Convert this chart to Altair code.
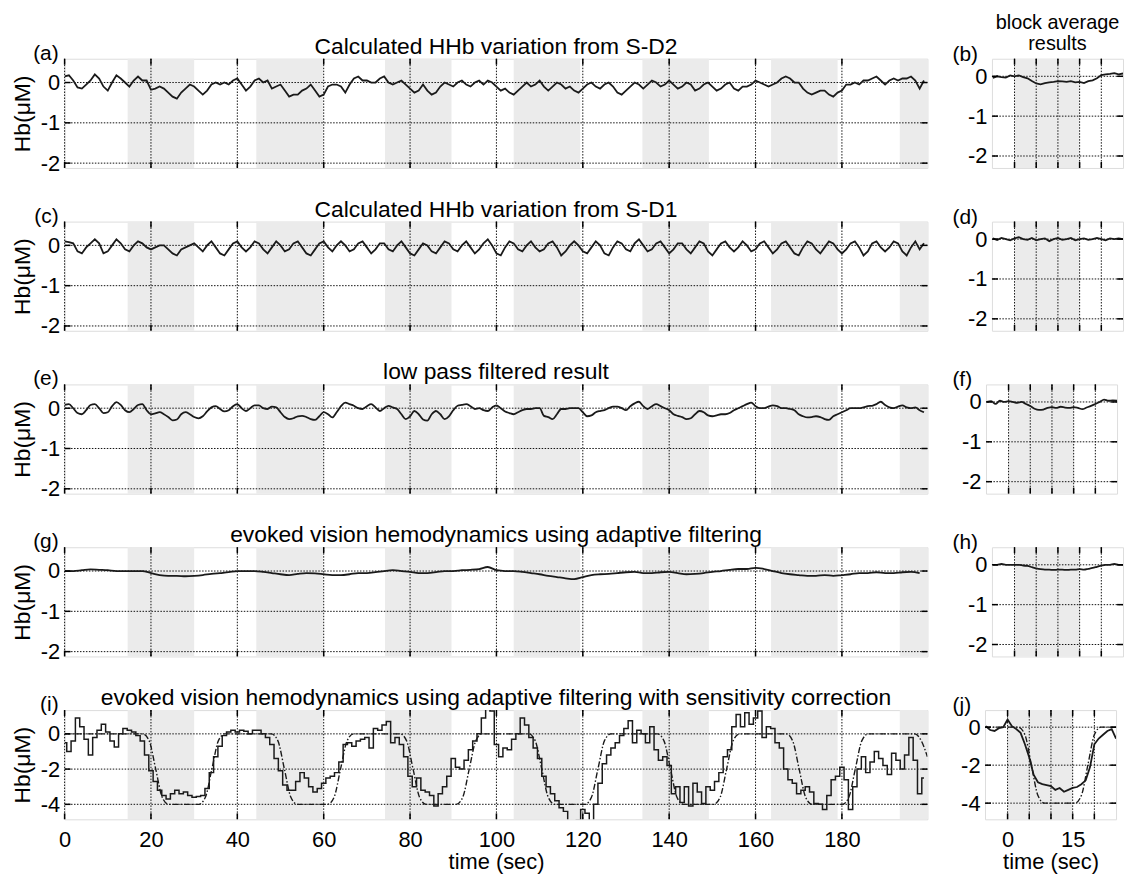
import altair as alt
import pandas as pd

FONT = "Liberation Sans"
GRAY = "#ebebeb"
INK = "#1a1a1a"

MAIN_W, MAIN_H = 869, 110
SMALL_W, SMALL_H = 132, 110
MAIN_XDOM = [0, 199.8]
SMALL_XDOM = [-5.2, 25]

MAIN_XTICKS = [0, 20, 40, 60, 80, 100, 120, 140, 160, 180]
SMALL_XGRID = [0, 5, 10, 15, 20]
SMALL_XLABELS = [0, 15]
BAND_START = [14.6, 44.4, 74.2, 104.0, 133.8, 163.6, 193.4]
BAND_END = [30.0, 59.8, 89.6, 119.4, 149.2, 179.0, 199.8]
SMALL_BAND_START = [0]
SMALL_BAND_END = [15]

YT_SMALLRANGE = [0, -1, -2]
YT_BIGRANGE = [0, -2, -4]

T_MAIN = list(range(200))
T_MAIN_2S = list(range(0, 200, 2))
T_SMALL = list(range(-5, 26))

# (a) Calculated HHb variation from S-D2
A_SD2 = [0.15, 0.18, 0.05, -0.12, -0.15, -0.05, 0.05, 0.2, 0.1, -0.1,
         -0.2, 0.0, 0.18, 0.1, 0.0, -0.1, 0.05, 0.15, 0.05, 0.05,
         -0.18, -0.15, -0.1, -0.15, -0.25, -0.35, -0.4, -0.25, -0.15, -0.05,
         -0.1, -0.2, -0.3, -0.2, -0.05, 0.0, -0.05, 0.0, -0.05, 0.05,
         0.1, -0.05, -0.2, -0.1, 0.05, 0.1, 0.0, 0.05, -0.15, -0.1,
         -0.05, -0.2, -0.35, -0.3, -0.3, -0.2, -0.15, -0.05, -0.2, -0.35,
         -0.3, -0.1, -0.05, -0.05, -0.1, -0.25, -0.05, 0.1, 0.15, 0.05,
         0.05, 0.0, 0.0, 0.1, 0.15, 0.0, -0.05, 0.0, 0.05, -0.05,
         -0.15, -0.25, -0.2, -0.05, -0.2, -0.3, -0.25, -0.1, 0.0, -0.05,
         -0.1, 0.0, 0.05, -0.05, -0.1, 0.0, 0.05, -0.05, 0.05, 0.0,
         -0.1, -0.2, -0.15, -0.25, -0.3, -0.2, -0.1, 0.0, -0.1, -0.05,
         0.05, -0.1, -0.2, -0.1, 0.0, -0.05, -0.15, -0.1, -0.2, -0.25,
         -0.15, -0.05, 0.0, -0.1, -0.15, -0.05, 0.0, -0.1, -0.25, -0.3,
         -0.2, -0.1, 0.0, -0.05, -0.15, -0.05, 0.05, 0.0, -0.1, -0.05,
         0.05, -0.05, -0.15, -0.1, 0.0, -0.05, -0.2, -0.15, -0.05, 0.0,
         -0.1, -0.2, -0.15, -0.05, 0.0, -0.15, -0.2, -0.1, -0.1, -0.05,
         0.05, 0.0, -0.05, -0.1, -0.05, 0.0, 0.1, 0.15, 0.1, 0.0,
         0.0, -0.15, -0.25, -0.3, -0.25, -0.2, -0.2, -0.3, -0.35, -0.25,
         -0.2, -0.05, -0.05, 0.0, -0.05, 0.05, 0.05, 0.1, 0.15, 0.05,
         -0.05, 0.05, 0.1, 0.05, 0.1, 0.1, 0.15, 0.05, -0.15, 0.05]

# (c) Calculated HHb variation from S-D1
C_SD1 = [0.1, 0.08, 0.05, -0.15, -0.2, -0.05, 0.05, 0.15, 0.05, -0.2,
         -0.15, 0.0, 0.15, 0.05, -0.1, -0.15, 0.0, 0.1, 0.05, -0.05,
         -0.1, -0.05, 0.0, 0.0, -0.1, -0.2, -0.25, -0.1, -0.05, 0.0,
         0.05, -0.05, -0.15, 0.0, 0.1, -0.05, -0.2, -0.25, -0.1, 0.05,
         0.1, -0.05, -0.15, -0.05, 0.1, 0.05, -0.1, -0.2, -0.05, 0.1,
         0.0, -0.15, -0.1, 0.05, 0.1, -0.05, -0.2, -0.25, -0.1, 0.05,
         0.1, -0.05, -0.15, 0.0, 0.1, 0.0, -0.15, -0.1, 0.05, 0.1,
         -0.05, -0.2, -0.1, 0.05, 0.05, -0.1, -0.15, 0.0, 0.1, -0.05,
         -0.2, -0.25, -0.1, 0.05, 0.0, -0.15, -0.2, -0.05, 0.1, 0.05,
         -0.1, -0.15, 0.0, 0.1, -0.05, -0.2, -0.1, 0.05, 0.15, 0.0,
         -0.2, -0.25, -0.05, 0.1, 0.05, -0.1, -0.15, 0.0, 0.1, -0.05,
         -0.15, -0.1, 0.05, 0.1, -0.05, -0.25, -0.15, 0.0, 0.1, 0.0,
         -0.15, -0.2, -0.05, 0.1, 0.0, -0.2, -0.25, -0.05, 0.1, 0.05,
         -0.1, -0.15, 0.05, 0.15, 0.0, -0.15, -0.1, 0.05, 0.1, -0.05,
         -0.2, -0.1, 0.05, 0.05, -0.1, -0.2, -0.05, 0.1, 0.05, -0.15,
         -0.25, -0.1, 0.05, 0.1, -0.05, -0.15, -0.05, 0.1, 0.0, -0.15,
         -0.1, 0.05, 0.1, -0.05, -0.2, -0.1, 0.05, 0.1, -0.05, -0.2,
         -0.25, -0.05, 0.1, 0.05, -0.1, -0.2, -0.05, 0.1, 0.05, -0.1,
         -0.2, -0.1, 0.05, 0.1, -0.05, -0.25, -0.15, 0.05, 0.1, -0.05,
         -0.15, -0.05, 0.1, 0.05, -0.15, -0.25, -0.05, 0.1, -0.1, 0.05]

# (e) low pass filtered result
E_LP = [0.08, 0.1, 0.0, -0.12, -0.15, -0.05, 0.08, 0.1, 0.0, -0.12,
        -0.1, 0.05, 0.15, 0.08, -0.05, -0.1, -0.02, 0.08, 0.1, -0.05,
        -0.15, -0.13, -0.1, -0.15, -0.22, -0.3, -0.28, -0.15, -0.1, -0.15,
        -0.22, -0.25, -0.2, -0.08, 0.02, 0.05, -0.02, -0.08, -0.05, 0.05,
        0.1, 0.0, -0.07, 0.0, 0.07, 0.07, 0.0, -0.02, 0.04, 0.02,
        -0.1, -0.22, -0.27, -0.25, -0.2, -0.19, -0.22, -0.27, -0.29, -0.2,
        -0.1, -0.15, -0.23, -0.1, 0.05, 0.14, 0.1, 0.06, 0.0, -0.02,
        0.05, 0.1, 0.02, -0.07, 0.0, 0.06, 0.02, -0.02, -0.15, -0.27,
        -0.2, -0.07, -0.15, -0.28, -0.31, -0.15, -0.07, -0.15, -0.27, -0.2,
        -0.05, 0.06, 0.08, 0.1, 0.05, -0.02, 0.0, -0.05, -0.07, 0.02,
        0.07, 0.0, -0.08, -0.12, -0.15, -0.1, -0.05, -0.02, -0.02, 0.0,
        0.0, -0.19, -0.22, -0.27, -0.15, -0.02, -0.02, 0.0, 0.0, 0.0,
        -0.1, -0.2, -0.18, -0.1, -0.07, -0.05, 0.0, 0.04, 0.04, 0.0,
        -0.05, 0.05, 0.12, 0.16, 0.05, -0.02, 0.05, 0.1, 0.05, 0.0,
        -0.05, -0.15, -0.19, -0.22, -0.27, -0.25, -0.15, -0.07, -0.1, -0.18,
        -0.2, -0.18, -0.15, -0.15, -0.12, -0.05, 0.0, 0.05, 0.1, 0.14,
        0.05, 0.0, 0.0, 0.04, 0.07, 0.05, 0.0, 0.0, -0.02, -0.05,
        -0.15, -0.2, -0.23, -0.22, -0.2, -0.22, -0.27, -0.29, -0.2, -0.15,
        -0.1, -0.05, 0.0, 0.0, 0.0, 0.02, 0.05, 0.06, 0.1, 0.16,
        0.08, 0.02, 0.0, 0.04, 0.07, 0.02, 0.0, 0.02, -0.05, -0.1]

# (g) evoked vision hemodynamics using adaptive filtering (2 s samples)
G_AF = [0.0, 0.0, 0.02, 0.04, 0.03, 0.02, 0.0, 0.0, 0.0, 0.0,
        -0.05, -0.1, -0.12, -0.12, -0.13, -0.12, -0.1, -0.07, -0.05, -0.03,
        0.0, 0.0, 0.0, -0.02, -0.05, -0.08, -0.1, -0.07, -0.05, -0.06,
        -0.08, -0.1, -0.1, -0.08, -0.05, -0.05, -0.03, 0.0, 0.02, 0.0,
        -0.02, -0.05, -0.05, -0.03, 0.0, 0.0, 0.02, 0.03, 0.05, 0.1,
        0.02, 0.0, 0.0, -0.02, -0.05, -0.08, -0.12, -0.15, -0.18, -0.2,
        -0.15, -0.1, -0.08, -0.07, -0.05, -0.03, -0.02, -0.05, -0.05, -0.03,
        -0.02, -0.05, -0.08, -0.07, -0.05, -0.02, 0.0, 0.03, 0.05, 0.05,
        0.08, 0.05, 0.0, -0.05, -0.08, -0.1, -0.12, -0.12, -0.1, -0.12,
        -0.1, -0.08, -0.05, -0.05, -0.03, -0.05, -0.05, -0.03, -0.02, -0.05]

# (i) with sensitivity correction
I_SC = [-0.5, -1.0, -0.4, 0.9, 0.4, -0.3, -1.2, -0.2, 0.2, 0.55,
        0.1, -0.4, -0.75, 0.0, 0.3, 0.2, 0.1, -0.1, -0.4, -1.2,
        -2.1, -2.7, -3.2, -3.5, -3.7, -3.4, -3.2, -3.4, -3.3, -3.5,
        -3.6, -3.55, -3.5, -3.1, -2.2, -1.3, -0.7, -0.1, 0.1, 0.2,
        0.1, 0.2, 0.15, 0.0, 0.2, 0.2, 0.0, -0.2, -0.6, -1.4,
        -2.1, -2.9, -3.2, -3.2, -2.7, -2.2, -2.5, -3.0, -3.3, -3.1,
        -2.8, -2.5, -2.4, -2.2, -1.6, -0.6, -0.5, -0.7, -0.4, -0.3,
        -0.2, -0.8, 0.3, 0.2, 0.5, 0.7, -0.5, -0.2, -0.6, -1.3,
        -2.4, -3.0, -2.5, -3.2, -3.3, -3.5, -4.1, -3.4, -3.0, -2.4,
        -1.4, -1.9, -2.0, -1.5, -0.9, -0.4, 0.0, 0.9, 1.5, 1.3,
        -0.6, -1.3, -0.8, -0.9, -0.3, 0.0, 0.9, 0.5, -0.2, -0.8,
        -1.4, -2.4, -3.0, -3.4, -3.8, -4.2, -4.4, -5.0, -5.0, -4.9,
        -4.3, -4.5, -5.0, -4.0, -2.8, -1.7, -1.2, -0.8, -0.5, -0.1,
        0.3, 0.75, -0.5, 0.2, 0.0, -0.5, 0.4, -0.9, -1.5, -1.3,
        -1.8, -3.4, -3.0, -3.9, -3.0, -4.1, -2.8, -3.3, -3.95, -3.0,
        -3.2, -2.7, -2.2, -1.3, -0.9, 0.4, 1.1, 0.4, 1.2, 0.55,
        0.9, 1.3, -0.2, 0.4, 0.3, -0.5, -0.8, -2.0, -2.6, -2.8,
        -3.4, -3.2, -3.0, -3.3, -3.95, -4.0, -4.3, -3.5, -2.6, -2.4,
        -1.9, -2.6, -4.3, -3.0, -2.0, -1.3, -2.2, -1.6, -1.0, -1.4,
        -1.8, -2.3, -1.1, -1.5, -2.0, -1.2, -0.2, -1.5, -3.4, -2.5]

# model response (dash-dot) in (i)
I_MODEL_T = [0, 18.1, 19.6, 21.1, 22.6, 24.1, 31.1, 32.6, 34.1, 35.6, 37.1,
             47.9, 49.4, 50.9, 52.4, 53.9, 60.9, 62.4, 63.9, 65.4, 66.9,
             77.7, 79.2, 80.7, 82.2, 83.7, 90.7, 92.2, 93.7, 95.2, 96.7,
             107.5, 109.0, 110.5, 112.0, 113.5, 120.5, 122.0, 123.5, 125.0, 126.5,
             137.3, 138.8, 140.3, 141.8, 143.3, 150.3, 151.8, 153.3, 154.8, 156.3,
             167.1, 168.6, 170.1, 171.6, 173.1, 180.1, 181.6, 183.1, 184.6, 186.1,
             196.9, 198.4, 199.8]
I_MODEL_V = [0, 0, -0.4, -2, -3.6, -4, -4, -3.6, -2, -0.4, 0,
             0, -0.4, -2, -3.6, -4, -4, -3.6, -2, -0.4, 0,
             0, -0.4, -2, -3.6, -4, -4, -3.6, -2, -0.4, 0,
             0, -0.4, -2, -3.6, -4, -4, -3.6, -2, -0.4, 0,
             0, -0.4, -2, -3.6, -4, -4, -3.6, -2, -0.4, 0,
             0, -0.4, -2, -3.6, -4, -4, -3.6, -2, -0.4, 0,
             0, -0.4, -1.3]

# block averages (t = -5 ... 25 s)
B_AVG = [-0.04, 0.0, -0.02, -0.03, 0.02, 0.0, 0.02, -0.02, -0.05, -0.12,
         -0.18, -0.2, -0.17, -0.15, -0.14, -0.12, -0.13, -0.14, -0.12, -0.15,
         -0.14, -0.17, -0.12, -0.1, -0.05, 0.03, 0.05, 0.06, 0.08, 0.05, 0.07]
D_AVG = [0.02, -0.02, 0.03, 0.0, -0.03, 0.02, 0.05, 0.0, -0.02, 0.03,
         -0.03, 0.0, 0.02, -0.05, 0.0, 0.03, -0.02, 0.0, 0.03, -0.03,
         0.0, 0.02, -0.02, 0.0, 0.03, 0.0, -0.03, 0.02, 0.0, 0.02, 0.0]
F_AVG = [0.0, 0.02, -0.05, 0.03, 0.0, 0.02, 0.0, -0.02, 0.0, -0.05,
         -0.1, -0.17, -0.2, -0.19, -0.15, -0.13, -0.15, -0.12, -0.14, -0.15,
         -0.13, -0.15, -0.18, -0.14, -0.1, -0.05, 0.0, 0.06, 0.03, 0.04, 0.03]
H_AVG = [0.0, 0.0, 0.02, 0.0, 0.0, 0.0, 0.0, -0.02, -0.03, -0.06,
         -0.09, -0.11, -0.12, -0.12, -0.13, -0.12, -0.12, -0.13, -0.12, -0.12,
         -0.11, -0.12, -0.1, -0.08, -0.05, -0.02, 0.0, 0.0, 0.02, 0.0, 0.0]
J_AVG = [0.05, -0.15, -0.2, -0.05, 0.0, 0.4, 0.05, -0.1, -0.3, -0.9,
         -1.6, -2.5, -2.9, -3.0, -3.05, -3.1, -3.3, -3.2, -3.4, -3.3,
         -3.2, -3.15, -3.0, -2.8, -2.1, -0.9, -0.6, -0.4, -0.2, -0.1, -0.6]
J_MODEL_T = [-5.2, 2.5, 4.0, 5.5, 7.0, 8.5, 15.5, 17.0, 18.5, 20.0, 21.5, 25.0]
J_MODEL_V = [0, 0, -0.4, -2, -3.6, -4, -4, -3.6, -2, -0.4, 0, 0]


def txt(s, x, y, align="center", size=21):
    return alt.Chart(pd.DataFrame({"s": [s]})).mark_text(
        align=align, baseline="alphabetic", fontSize=size, font=FONT, color="black"
    ).encode(x=alt.value(x), y=alt.value(y), text="s:N")


def panel(w, h, xdom, ydom, xgrid, ygrid, band_s, band_e, t, v, interp,
          model_t=None, model_v=None, xlabels=None, ytitle=None, texts=(), lw=1.7):
    xs = alt.Scale(domain=xdom, nice=False, zero=False)
    ys = alt.Scale(domain=ydom, nice=False, zero=False)
    if xlabels is None:
        xaxis = None
    else:
        xaxis = alt.Axis(values=xlabels, title="time (sec)", ticks=False, domain=False,
                         grid=False, labelFontSize=22, titleFontSize=22,
                         titleFontWeight="normal", labelPadding=10, titlePadding=2,
                         labelFlush=False, labelColor="black", titleColor="black",
                         labelFont=FONT, titleFont=FONT)
    yaxis = alt.Axis(values=ygrid, title=ytitle, ticks=False, domain=False, grid=False,
                     labelFontSize=22, titleFontSize=23, titleFontWeight="normal",
                     labelPadding=5, titlePadding=6, labelColor="black",
                     titleColor="black", labelExpr="'' + datum.value",
                     labelFont=FONT, titleFont=FONT)
    X = lambda f: alt.X(f, scale=xs, axis=xaxis)
    Y = lambda f: alt.Y(f, scale=ys, axis=yaxis)

    layers = []
    layers.append(alt.Chart(pd.DataFrame({"a": band_s, "b": band_e}))
                  .mark_rect(color=GRAY).encode(x=X("a:Q"), x2="b:Q"))
    gx = pd.DataFrame({"g": xgrid})
    gy = pd.DataFrame({"g": ygrid})
    dot = dict(color="#111111", strokeDash=[1.5, 1.5], strokeWidth=1)
    layers.append(alt.Chart(gy).mark_rule(**dot).encode(y=Y("g:Q")))
    layers.append(alt.Chart(gx).mark_rule(**dot).encode(x=X("g:Q")))
    if model_t is not None:
        layers.append(alt.Chart(pd.DataFrame({"t": model_t, "v": model_v}))
                      .mark_line(color=INK, strokeWidth=1.4, strokeDash=[6, 2, 1.5, 2],
                                 interpolate="monotone", clip=True)
                      .encode(x=X("t:Q"), y=Y("v:Q")))
    layers.append(alt.Chart(pd.DataFrame({"t": t, "v": v}))
                  .mark_line(color=INK, strokeWidth=lw, interpolate=interp, clip=True)
                  .encode(x=X("t:Q"), y=Y("v:Q")))
    # inward ticks (box style)
    tk = dict(color="black", strokeWidth=1.5)
    layers.append(alt.Chart(gx).mark_rule(**tk).encode(x=X("g:Q"), y=alt.value(0), y2=alt.value(6)))
    layers.append(alt.Chart(gx).mark_rule(**tk).encode(x=X("g:Q"), y=alt.value(h), y2=alt.value(h - 6)))
    layers.append(alt.Chart(gy).mark_rule(**tk).encode(y=Y("g:Q"), x=alt.value(0), x2=alt.value(6)))
    layers.append(alt.Chart(gy).mark_rule(**tk).encode(y=Y("g:Q"), x=alt.value(w), x2=alt.value(w - 6)))
    for tx in texts:
        layers.append(tx)
    return alt.layer(*layers).properties(width=w, height=h)


def main_row(label, title, t, v, interp, ydom, ygrid, model=None, xlabels=None, lw=1.8):
    texts = [txt(label, -6, 1, "right", 21), txt(title, MAIN_W / 2, -5, "center", 23)]
    mt, mv = (model if model else (None, None))
    return panel(MAIN_W, MAIN_H, MAIN_XDOM, ydom, MAIN_XTICKS, ygrid, BAND_START, BAND_END,
                 t, v, interp, mt, mv, xlabels, "Hb(μM)", texts, lw)


def small(label, v, ydom, ygrid, interp="linear", model=None, xlabels=None, extra=()):
    texts = [txt(label, -14, 2, "right", 21)] + list(extra)
    mt, mv = (model if model else (None, None))
    return panel(SMALL_W, SMALL_H, SMALL_XDOM, ydom, SMALL_XGRID, ygrid,
                 SMALL_BAND_START, SMALL_BAND_END, T_SMALL, v, interp, mt, mv,
                 xlabels, None, texts, 1.8)


DOM1 = [-2.12, 0.59]
DOM1S = [-2.3, 0.44]
DOM2 = [-4.85, 1.35]
DOM2S = [-4.85, 0.9]
HSP = 22

rows = [
    alt.hconcat(
        main_row("(a)", "Calculated HHb variation from S-D2", T_MAIN, A_SD2, "linear", DOM1, YT_SMALLRANGE),
        small("(b)", B_AVG, DOM1S, YT_SMALLRANGE, "linear",
              extra=[txt("block average", SMALL_W / 2, -30, "center", 20),
                     txt("results", SMALL_W / 2, -9, "center", 20)]),
        spacing=HSP),
    alt.hconcat(
        main_row("(c)", "Calculated HHb variation from S-D1", T_MAIN, C_SD1, "linear", DOM1, YT_SMALLRANGE),
        small("(d)", D_AVG, DOM1S, YT_SMALLRANGE, "linear"),
        spacing=HSP),
    alt.hconcat(
        main_row("(e)", "low pass filtered result", T_MAIN, E_LP, "monotone", DOM1, YT_SMALLRANGE),
        small("(f)", F_AVG, DOM1S, YT_SMALLRANGE, "monotone"),
        spacing=HSP),
    alt.hconcat(
        main_row("(g)", "evoked vision hemodynamics using adaptive filtering", T_MAIN_2S, G_AF,
                 "monotone", DOM1, YT_SMALLRANGE),
        small("(h)", H_AVG, DOM1S, YT_SMALLRANGE, "monotone"),
        spacing=HSP),
    alt.hconcat(
        main_row("(i)", "evoked vision hemodynamics using adaptive filtering with sensitivity correction",
                 T_MAIN, I_SC, "step", DOM2, YT_BIGRANGE, model=(I_MODEL_T, I_MODEL_V),
                 xlabels=MAIN_XTICKS, lw=1.5),
        small("(j)", J_AVG, DOM2S, YT_BIGRANGE, "linear", model=(J_MODEL_T, J_MODEL_V),
              xlabels=SMALL_XLABELS),
        spacing=HSP),
]

chart = alt.vconcat(*rows, spacing=23).properties(
    padding={"left": 2, "top": 1, "right": 0, "bottom": 0}
).configure_view(stroke="black", strokeWidth=2).configure(font=FONT)

chart.save("out.html", embed_options={"renderer": "svg", "actions": False})
